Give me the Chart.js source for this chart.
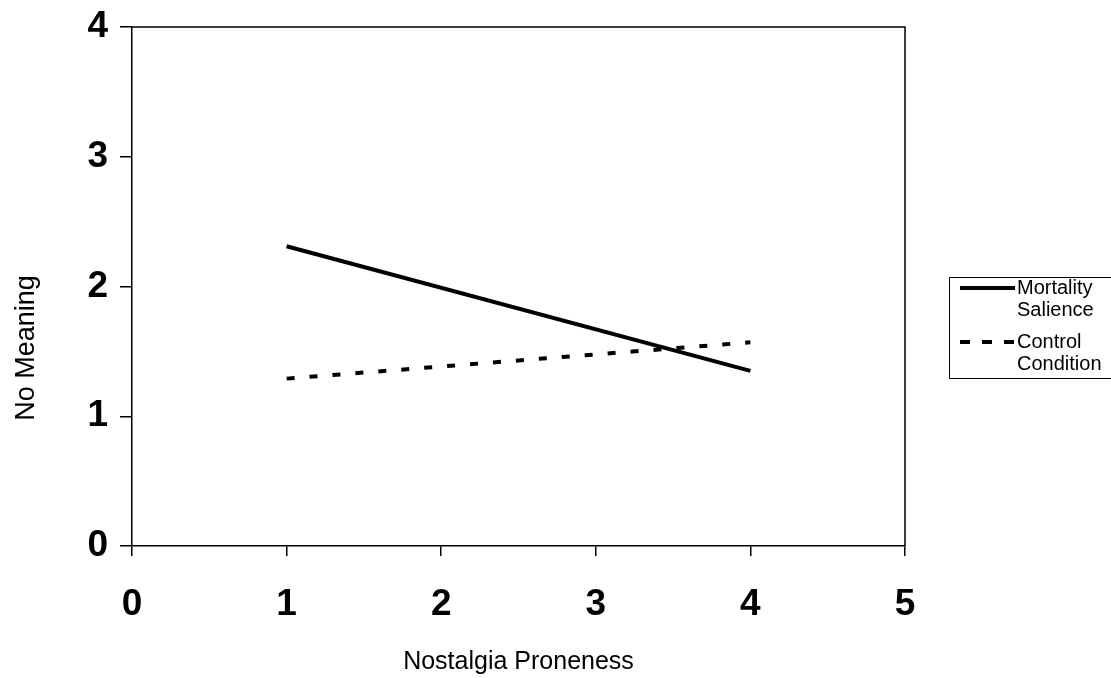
<!DOCTYPE html>
<html>
<head>
<meta charset="utf-8">
<script src="https://cdn.jsdelivr.net/npm/chart.js@4/dist/chart.umd.min.js"></script>
<style>
  html, body { margin: 0; padding: 0; background: #fff; }
  #wrap { width: 1111px; height: 678px; position: relative; }
</style>
</head>
<body>
<div id="wrap"><canvas id="chart" width="1111" height="678"></canvas></div>
<script>
const xValues = [1, 4];
const mortality = [2.31, 1.35];
const control = [1.29, 1.57];
const xTicks = [0, 1, 2, 3, 4, 5];
const yTicks = [0, 1, 2, 3, 4];
const seriesNames = ["Mortality Salience", "Control Condition"];
const xTitle = "Nostalgia Proneness";
const yTitle = "No Meaning";

const FONT = "'Liberation Sans', Arial, sans-serif";

// frame + axis titles + legend box
const extras = {
  id: "extras",
  afterDraw(chart) {
    const { ctx, chartArea: a } = chart;
    ctx.save();
    ctx.strokeStyle = "#000";
    ctx.lineWidth = 1.5;
    ctx.beginPath();
    ctx.moveTo(a.left, a.top);
    ctx.lineTo(a.right, a.top);
    ctx.lineTo(a.right, a.bottom);
    ctx.stroke();

    ctx.fillStyle = "#000";
    ctx.font = "25px " + FONT;
    ctx.textAlign = "center";
    ctx.textBaseline = "middle";
    ctx.fillText(xTitle, (a.left + a.right) / 2, 662);
    ctx.font = "27px " + FONT;
    ctx.translate(27, 348);
    ctx.rotate(-Math.PI / 2);
    ctx.fillText(yTitle, 0, 0);
    ctx.restore();

    // legend
    ctx.save();
    ctx.strokeStyle = "#000";
    ctx.lineWidth = 1;
    ctx.strokeRect(949.5, 277.5, 200, 101);
    ctx.lineWidth = 4;
    ctx.beginPath();
    ctx.moveTo(960, 288);
    ctx.lineTo(1015, 288);
    ctx.stroke();
    ctx.setLineDash([10, 12]);
    ctx.beginPath();
    ctx.moveTo(960, 342);
    ctx.lineTo(1015, 342);
    ctx.stroke();
    ctx.setLineDash([]);
    ctx.fillStyle = "#000";
    ctx.font = "20px " + FONT;
    ctx.textAlign = "left";
    ctx.textBaseline = "middle";
    const [a1, b1] = seriesNames[0].split(" ");
    const [a2, b2] = seriesNames[1].split(" ");
    ctx.fillText(a1, 1017, 288);
    ctx.fillText(b1, 1017, 310);
    ctx.fillText(a2, 1017, 342);
    ctx.fillText(b2, 1017, 364);
    ctx.restore();
  }
};

new Chart(document.getElementById("chart"), {
  type: "line",
  data: {
    datasets: [
      {
        label: seriesNames[0],
        data: xValues.map((x, i) => ({ x, y: mortality[i] })),
        borderColor: "#000",
        borderWidth: 4,
        pointRadius: 0,
        tension: 0
      },
      {
        label: seriesNames[1],
        data: xValues.map((x, i) => ({ x, y: control[i] })),
        borderColor: "#000",
        borderWidth: 4,
        borderDash: [8, 15],
        borderCapStyle: "butt",
        pointRadius: 0,
        tension: 0
      }
    ]
  },
  options: {
    responsive: false,
    animation: false,
    layout: { padding: { left: 0, right: 206, top: 27, bottom: 0 } },
    plugins: { legend: { display: false }, tooltip: { enabled: false } },
    scales: {
      x: {
        type: "linear",
        min: 0,
        max: 5,
        afterBuildTicks: s => { s.ticks = xTicks.map(v => ({ value: v })); },
        afterFit: s => { s.height = 132; s.paddingLeft = 0; s.paddingRight = 0; },
        grid: { drawOnChartArea: false, color: "#000", lineWidth: 1.5, tickLength: 10 },
        border: { color: "#000", width: 1.5 },
        ticks: { color: "#000", padding: 27, font: { family: FONT, size: 37, weight: "bold" } }
      },
      y: {
        min: 0,
        max: 4,
        afterBuildTicks: s => { s.ticks = yTicks.map(v => ({ value: v })); },
        afterFit: s => { s.width = 132; s.paddingTop = 0; s.paddingBottom = 0; },
        grid: { drawOnChartArea: false, color: "#000", lineWidth: 1.5, tickLength: 12 },
        border: { color: "#000", width: 1.5 },
        ticks: { color: "#000", padding: 12, font: { family: FONT, size: 37, weight: "bold" } }
      }
    }
  },
  plugins: [extras]
});
</script>
</body>
</html>
